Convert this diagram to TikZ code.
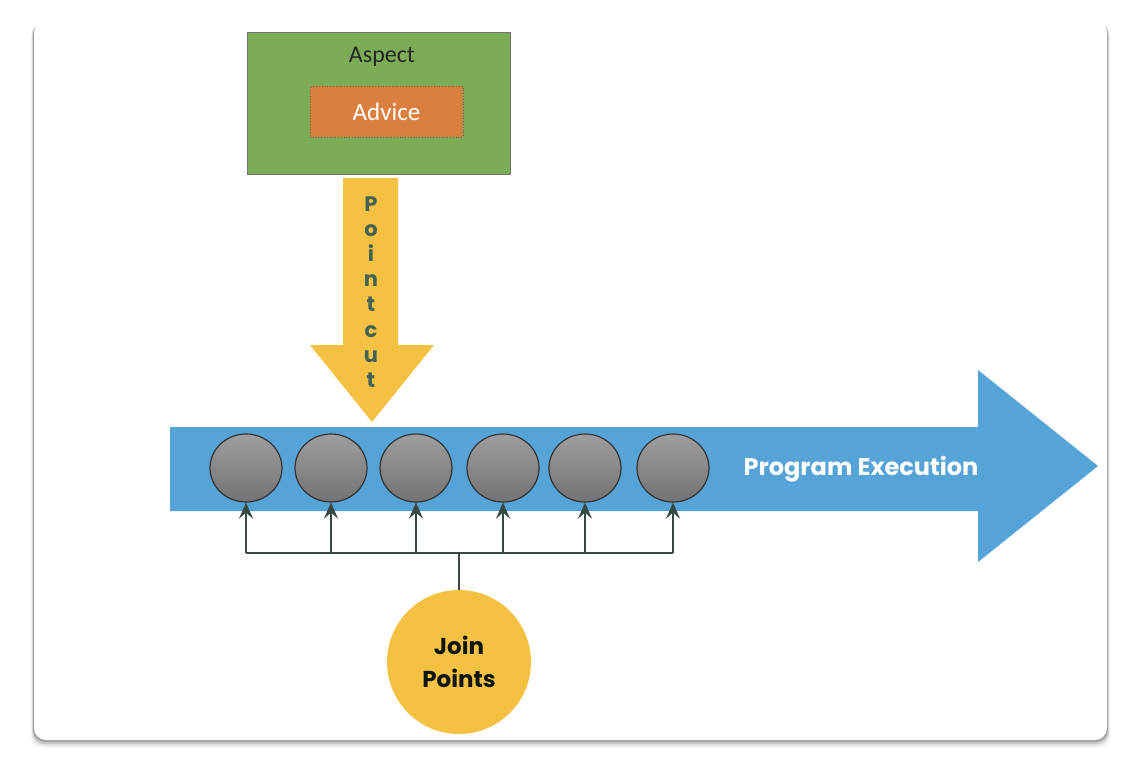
\documentclass[tikz,border=0pt]{standalone}
\usepackage{fontspec}
\setmainfont{Carlito}
\newfontfamily\popfont{Poppins}
\usetikzlibrary{arrows.meta,shapes.geometric}

\definecolor{aspectgreen}{RGB}{124,172,86}
\definecolor{advorange}{RGB}{219,127,64}
\definecolor{cutyellow}{RGB}{244,193,66}
\definecolor{execblue}{RGB}{86,163,215}
\definecolor{linkgray}{RGB}{58,72,66}
\definecolor{cuttext}{RGB}{66,98,84}

\begin{document}
\begin{tikzpicture}[
  x=0.5pt, y=-0.5pt,
  ball/.style={ellipse, draw=black!80, line width=0.6pt, top color=black!38, bottom color=black!55,
               minimum width=36pt, minimum height=34pt, inner sep=0pt},
  link/.style={draw=linkgray, line width=1.1pt},
  linkarr/.style={link, -{Stealth[length=8pt, width=7pt, inset=3pt]}},
  shade/.style={fill=black, rounded corners=6pt}
]
\useasboundingbox (0,0) rectangle (1146,778);
% card and its shadow
\foreach \o/\op in {8/0.04, 6/0.07, 4/0.12, 2/0.2}
  \fill[shade, opacity=\op] (34-\o*0.4,20+\o*0.6) rectangle (1107+\o*0.4,740+\o);
\fill[white, rounded corners=6pt] (34,20) rectangle (1107,740);

% aspect and advice
\node[draw=black!55, fill=aspectgreen, minimum width=131.5pt, minimum height=71pt, inner sep=0pt] (aspect) at (378.5,103) {};
\node[font=\fontsize{12}{14}\selectfont, text=black!85] (aspectlbl) at (382,57) {Aspect};
\node[draw=black!60, densely dotted, line width=0.4pt, fill=advorange, minimum width=76.5pt, minimum height=25.5pt,
      inner sep=0pt, text=white, font=\fontsize{12.5}{14}\selectfont] (advice) at (386.5,111.5) {Advice};

% point cut arrow
\fill[cutyellow] (343,178) -- (398,178) -- (398,345) -- (434,345) -- (372,422) -- (310,345) -- (343,345) -- cycle;
\node[text=cuttext, align=center, inner sep=0pt, font=\popfont\bfseries\fontsize{10.5}{12.6}\selectfont] (pointcut) at (371,292)
  {P\\o\\i\\n\\t\\c\\u\\t};

% program execution arrow
\fill[execblue] (170,427) -- (978,427) -- (978,370) -- (1098,466) -- (978,562) -- (978,511) -- (170,511) -- cycle;
\node[text=white, font=\popfont\bfseries\fontsize{12}{14}\selectfont] (exec) at (861,469) {Program Execution};

% join points on the execution line
\foreach \x [count=\i] in {246,331,416,503,585,673}
  \node[ball] (ball\i) at (\x,468) {};

\node[circle, fill=cutyellow, minimum size=72pt, inner sep=0pt, align=center, text=black!80!cuttext,
      font=\popfont\bfseries\fontsize{11.5}{16.5}\selectfont] (jp) at (459,662) {Join\\Points};

\coordinate (bus) at (459,553);
\draw[link] (ball1.south |- bus) -- (ball6.south |- bus);
\draw[link] (jp.north) -- (jp.north |- bus);
\foreach \i in {1,...,6}
  \draw[linkarr] (ball\i.south |- bus) -- (ball\i.south);
\end{tikzpicture}
\end{document}
